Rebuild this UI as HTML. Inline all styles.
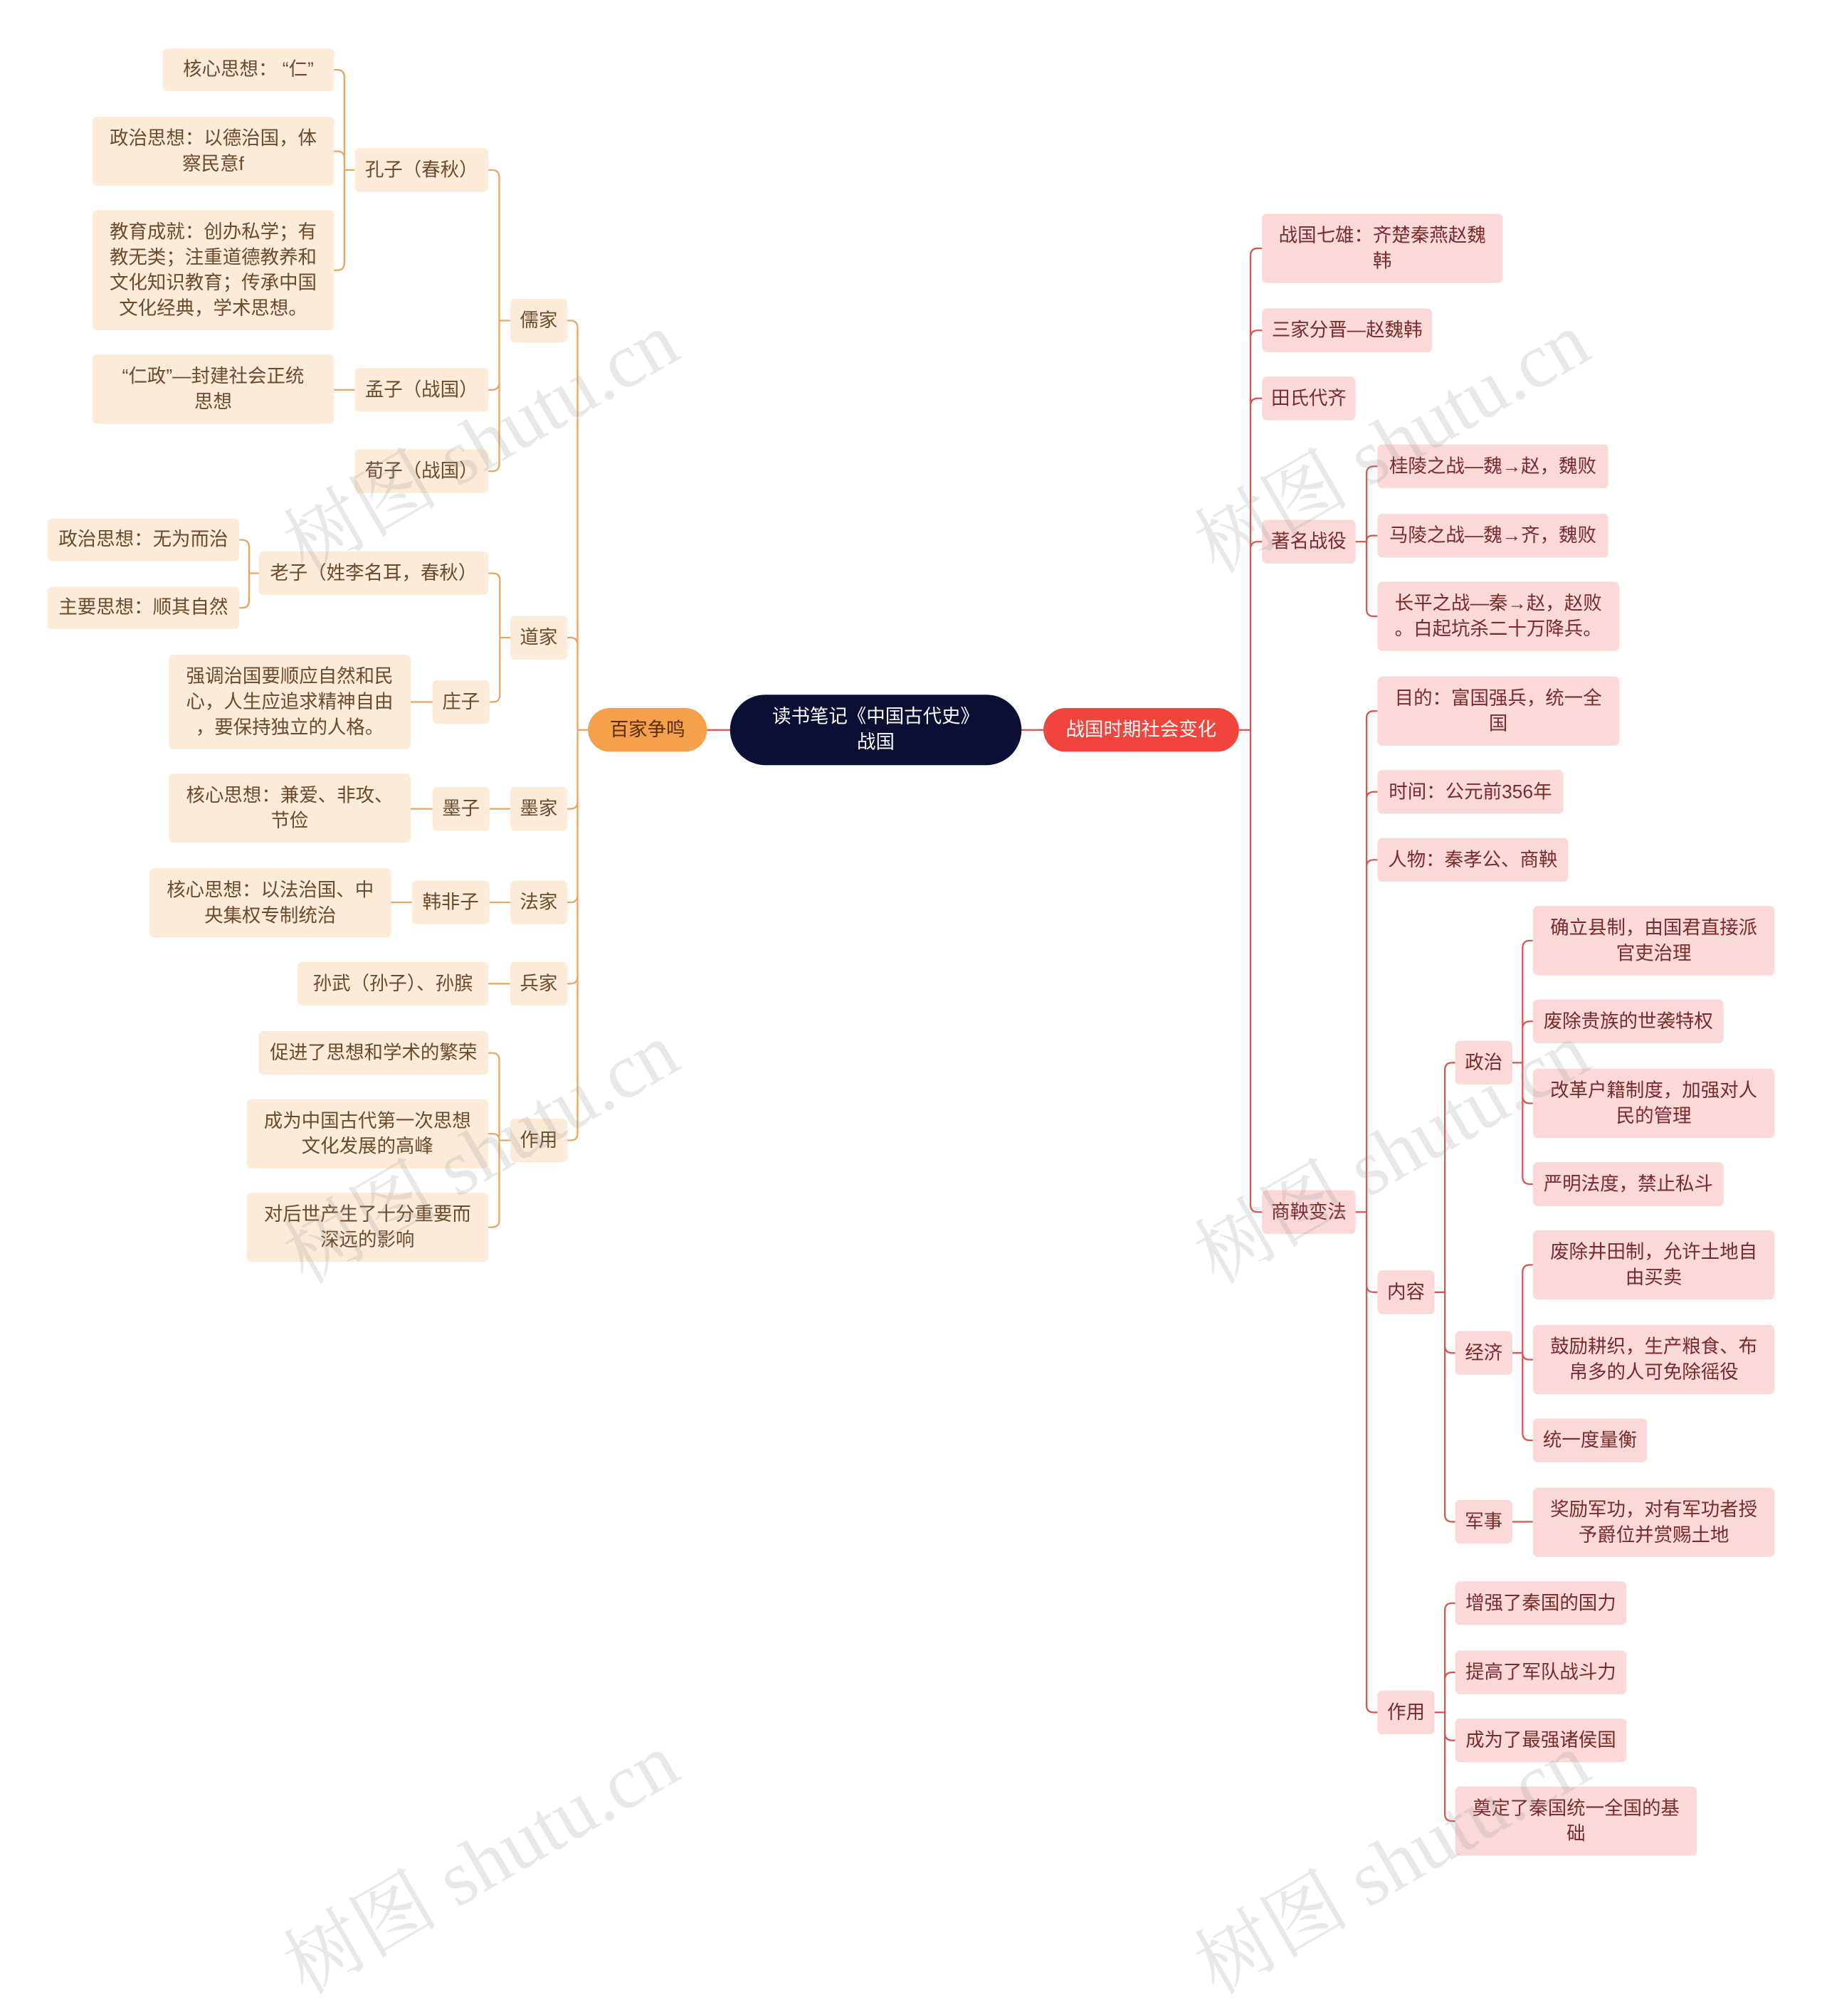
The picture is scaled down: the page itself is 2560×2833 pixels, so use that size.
<!DOCTYPE html>
<html><head><meta charset="utf-8">
<style>
html,body{margin:0;padding:0;background:#fff;}
body{width:2560px;height:2675px;overflow:hidden;position:relative;}
#s{position:absolute;left:0;top:0;width:1500px;height:1568px;transform:scale(1.706667);transform-origin:0 0;font-family:"Liberation Sans","Noto Sans CJK SC",sans-serif;}
.n{position:absolute;box-sizing:border-box;display:flex;align-items:center;justify-content:center;text-align:center;font-size:15.5px;line-height:21px;border-radius:4px;padding:0 4px;white-space:nowrap;}
.l{background:#fdebd9;color:#6b4a2c;}
.r{background:#fcd9d9;color:#7a2a2a;}
.wm{position:absolute;font-size:64px;color:rgba(150,150,150,0.22);transform:rotate(-30deg);transform-origin:0 0;white-space:nowrap;font-family:"Liberation Serif","Noto Serif CJK SC",serif;}
svg{position:absolute;left:0;top:0;}
</style></head><body>
<div id="s">
<svg id="g" width="1500" height="1568"></svg>
<div id="nodes"></div>
<div class="wm" style="left:215px;top:410px">树图 shutu.cn</div>
<div class="wm" style="left:215px;top:995px">树图 shutu.cn</div>
<div class="wm" style="left:215px;top:1580px">树图 shutu.cn</div>
<div class="wm" style="left:965px;top:410px">树图 shutu.cn</div>
<div class="wm" style="left:965px;top:995px">树图 shutu.cn</div>
<div class="wm" style="left:965px;top:1580px">树图 shutu.cn</div>
</div>
<script>
var N={
c:[601,572,240,58,'读书笔记《中国古代史》<br>战国','c'],
bj:[484,583,98,36,'百家争鸣','o'],
zg:[859,583,161,36,'战国时期社会变化','rr'],
rj:[420,246,47,36,'儒家','l'],
kz:[292,122,110,36,'孔子（春秋）','l'],
k1:[134,40,141,35,'核心思想： “仁”','l'],
k2:[76,96,199,57,'政治思想：以德治国，体<br>察民意f','l'],
k3:[76,173,199,99,'教育成就：创办私学；有<br>教无类；注重道德教养和<br>文化知识教育；传承中国<br>文化经典，学术思想。','l'],
mz:[292,303,110,36,'孟子（战国）','l'],
m1:[76,292,199,57,'“仁政”—封建社会正统<br>思想','l'],
xz:[292,370,110,36,'荀子（战国）','l'],
dj:[420,507,47,36,'道家','l'],
lz:[213,454,189,36,'老子（姓李名耳，春秋）','l'],
l1:[39,427,158,35,'政治思想：无为而治','l'],
l2:[39,483,158,35,'主要思想：顺其自然','l'],
zz:[356,560,47,36,'庄子','l'],
z1:[139,539,199,78,'强调治国要顺应自然和民<br>心，人生应追求精神自由<br>，要保持独立的人格。','l'],
mj:[420,648,47,36,'墨家','l'],
mo:[356,648,47,36,'墨子','l'],
mo1:[139,637,199,57,'核心思想：兼爱、非攻、<br>节俭','l'],
fj:[420,725,47,36,'法家','l'],
hf:[339,725,64,36,'韩非子','l'],
hf1:[123,715,199,57,'核心思想：以法治国、中<br>央集权专制统治','l'],
bing:[420,792,47,36,'兵家','l'],
sw:[245,792,157,36,'孙武（孙子）、孙膑','l'],
zy:[420,921,47,36,'作用','l'],
zy1:[213,849,189,36,'促进了思想和学术的繁荣','l'],
zy2:[203,905,199,57,'成为中国古代第一次思想<br>文化发展的高峰','l'],
zy3:[203,982,199,57,'对后世产生了十分重要而<br>深远的影响','l'],
r1:[1039,176,198,57,'战国七雄：齐楚秦燕赵魏<br>韩','r'],
r2:[1039,254,140,36,'三家分晋—赵魏韩','r'],
r3:[1039,310,77,36,'田氏代齐','r'],
r4:[1039,428,77,36,'著名战役','r'],
b1:[1134,366,190,36,'桂陵之战—魏→赵，魏败','r'],
b2:[1134,423,190,36,'马陵之战—魏→齐，魏败','r'],
b3:[1134,479,199,57,'长平之战—秦→赵，赵败<br>。白起坑杀二十万降兵。','r'],
r5:[1039,980,77,36,'商鞅变法','r'],
s1:[1134,557,199,57,'目的：富国强兵，统一全<br>国','r'],
s2:[1134,634,153,36,'时间：公元前356年','r'],
s3:[1134,690,157,36,'人物：秦孝公、商鞅','r'],
nr:[1134,1046,47,36,'内容','r'],
sz:[1134,1392,47,36,'作用','r'],
zz2:[1198,857,47,36,'政治','r'],
jj:[1198,1096,47,36,'经济','r'],
js:[1198,1235,47,36,'军事','r'],
p1:[1262,746,199,57,'确立县制，由国君直接派<br>官吏治理','r'],
p2:[1262,823,157,36,'废除贵族的世袭特权','r'],
p3:[1262,880,199,57,'改革户籍制度，加强对人<br>民的管理','r'],
p4:[1262,957,157,36,'严明法度，禁止私斗','r'],
e1:[1262,1013,199,57,'废除井田制，允许土地自<br>由买卖','r'],
e2:[1262,1091,199,57,'鼓励耕织，生产粮食、布<br>帛多的人可免除徭役','r'],
e3:[1262,1168,94,36,'统一度量衡','r'],
j1:[1262,1225,199,57,'奖励军功，对有军功者授<br>予爵位并赏赐土地','r'],
y1:[1198,1302,141,36,'增强了秦国的国力','r'],
y2:[1198,1359,141,36,'提高了军队战斗力','r'],
y3:[1198,1415,141,36,'成为了最强诸侯国','r'],
y4:[1198,1471,199,57,'奠定了秦国统一全国的基<br>础','r']
};
var T={
bj:['rj','dj','mj','fj','bing','zy'],rj:['kz','mz','xz'],kz:['k1','k2','k3'],mz:['m1'],
dj:['lz','zz'],lz:['l1','l2'],zz:['z1'],mj:['mo'],mo:['mo1'],fj:['hf'],hf:['hf1'],bing:['sw'],zy:['zy1','zy2','zy3'],
zg:['r1','r2','r3','r4','r5'],r4:['b1','b2','b3'],r5:['s1','s2','s3','nr','sz'],nr:['zz2','jj','js'],
zz2:['p1','p2','p3','p4'],jj:['e1','e2','e3'],js:['j1'],sz:['y1','y2','y3','y4']
};
var h='';
for(var k in N){var a=N[k];var st='left:'+a[0]+'px;top:'+a[1]+'px;width:'+a[2]+'px;height:'+a[3]+'px;';
var cls='n ';
if(a[5]=='c'){st+='background:#0b0f33;color:#fff;border-radius:29px;';}
else if(a[5]=='o'){st+='background:#f5a04a;color:#5a2e08;border-radius:18px;';}
else if(a[5]=='rr'){st+='background:#f0443c;color:#fff;border-radius:18px;';}
else cls+=a[5];
h+='<div class="'+cls+'" style="'+st+'">'+a[4]+'</div>';}
document.getElementById('nodes').innerHTML=h;
var p='';
function cy(a){return a[1]+a[3]/2;}
p+='<path d="M582,601H601M841,601H859" stroke="#d9534f" stroke-width="1.3" fill="none"/>';
for(var k in T){var a=N[k];var left=['bj','rj','kz','mz','dj','lz','zz','mj','mo','fj','hf','bing','zy'].indexOf(k)>=0;
var col=left?'#e8a55c':'#d9534f';var d='';var pc=cy(a);
var ch=T[k];
if(left){var ce=0;ch.forEach(function(c){ce=Math.max(ce,N[c][0]+N[c][2]);});
var bx=(ce+a[0])/2;d+='M'+a[0]+','+pc+'H'+bx;
ch.forEach(function(c){var b=N[c],y=cy(b),r=Math.min(6,Math.abs(y-pc));
if(Math.abs(y-pc)<1){d+='M'+bx+','+pc+'H'+(b[0]+b[2]);return;}
var s=y>pc?1:-1;d+='M'+bx+','+pc+'V'+(y-s*r)+'Q'+bx+','+y+' '+(bx-r)+','+y+'H'+(b[0]+b[2]);});}
else{var ce=9999;ch.forEach(function(c){ce=Math.min(ce,N[c][0]);});
var pe=a[0]+a[2];var bx=(ce+pe)/2;d+='M'+pe+','+pc+'H'+bx;
ch.forEach(function(c){var b=N[c],y=cy(b),r=Math.min(6,Math.abs(y-pc));
if(Math.abs(y-pc)<1){d+='M'+bx+','+pc+'H'+b[0];return;}
var s=y>pc?1:-1;d+='M'+bx+','+pc+'V'+(y-s*r)+'Q'+bx+','+y+' '+(bx+r)+','+y+'H'+b[0];});}
p+='<path d="'+d+'" stroke="'+col+'" stroke-width="1.3" fill="none"/>';}
document.getElementById('g').innerHTML=p;
</script>
</body></html>
